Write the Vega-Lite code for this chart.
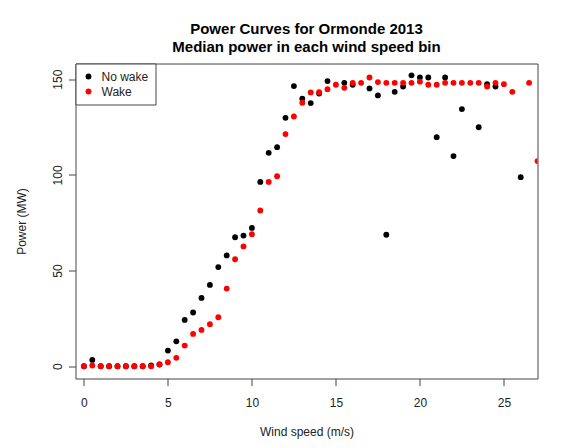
{
  "$schema": "https://vega.github.io/schema/vega-lite/v6.json",
  "width": 462,
  "height": 315,
  "autosize": {"type": "none"},
  "padding": {"left": 75.5, "top": 63.5, "right": 31.5, "bottom": 69.5},
  "background": "white",
  "title": {
    "text": ["Power Curves for Ormonde 2013", "Median power in each wind speed bin"],
    "font": "Liberation Sans",
    "fontSize": 15,
    "fontWeight": "bold",
    "color": "#000000",
    "anchor": "middle",
    "frame": "group",
    "lineHeight": 18,
    "offset": 8
  },
  "config": {
    "view": {"stroke": "#444444", "strokeWidth": 1},
    "axis": {
      "labelFont": "Liberation Sans",
      "titleFont": "Liberation Sans",
      "labelFontSize": 12,
      "titleFontSize": 12,
      "titleFontWeight": "normal",
      "labelColor": "#222222",
      "titleColor": "#222222",
      "tickColor": "#444444",
      "tickSize": 7,
      "domain": false,
      "grid": false
    }
  },
  "data": {
    "values": [
      {"wind": 0, "power": 0, "series": "No wake"},
      {"wind": 0.5, "power": 3.3, "series": "No wake"},
      {"wind": 1, "power": 0, "series": "No wake"},
      {"wind": 1.5, "power": 0, "series": "No wake"},
      {"wind": 2, "power": 0, "series": "No wake"},
      {"wind": 2.5, "power": 0, "series": "No wake"},
      {"wind": 3, "power": 0, "series": "No wake"},
      {"wind": 3.5, "power": 0, "series": "No wake"},
      {"wind": 4, "power": 0.4, "series": "No wake"},
      {"wind": 4.5, "power": 0.9, "series": "No wake"},
      {"wind": 5, "power": 8.2, "series": "No wake"},
      {"wind": 5.5, "power": 13.0, "series": "No wake"},
      {"wind": 6, "power": 24.2, "series": "No wake"},
      {"wind": 6.5, "power": 28.1, "series": "No wake"},
      {"wind": 7, "power": 35.7, "series": "No wake"},
      {"wind": 7.5, "power": 42.5, "series": "No wake"},
      {"wind": 8, "power": 51.8, "series": "No wake"},
      {"wind": 8.5, "power": 57.9, "series": "No wake"},
      {"wind": 9, "power": 67.4, "series": "No wake"},
      {"wind": 9.5, "power": 68.3, "series": "No wake"},
      {"wind": 10, "power": 72.3, "series": "No wake"},
      {"wind": 10.5, "power": 96.3, "series": "No wake"},
      {"wind": 11, "power": 111.5, "series": "No wake"},
      {"wind": 11.5, "power": 114.5, "series": "No wake"},
      {"wind": 12, "power": 129.8, "series": "No wake"},
      {"wind": 12.5, "power": 146.4, "series": "No wake"},
      {"wind": 13, "power": 139.8, "series": "No wake"},
      {"wind": 13.5, "power": 137.5, "series": "No wake"},
      {"wind": 14, "power": 142.5, "series": "No wake"},
      {"wind": 14.5, "power": 149.0, "series": "No wake"},
      {"wind": 15.5, "power": 148.1, "series": "No wake"},
      {"wind": 16, "power": 147.1, "series": "No wake"},
      {"wind": 17, "power": 145.2, "series": "No wake"},
      {"wind": 17.5, "power": 141.5, "series": "No wake"},
      {"wind": 18, "power": 68.7, "series": "No wake"},
      {"wind": 18.5, "power": 143.4, "series": "No wake"},
      {"wind": 19, "power": 146.2, "series": "No wake"},
      {"wind": 19.5, "power": 152.0, "series": "No wake"},
      {"wind": 20, "power": 150.9, "series": "No wake"},
      {"wind": 20.5, "power": 150.9, "series": "No wake"},
      {"wind": 21, "power": 119.7, "series": "No wake"},
      {"wind": 21.5, "power": 150.9, "series": "No wake"},
      {"wind": 22, "power": 109.8, "series": "No wake"},
      {"wind": 22.5, "power": 134.4, "series": "No wake"},
      {"wind": 23.5, "power": 124.9, "series": "No wake"},
      {"wind": 24, "power": 147.4, "series": "No wake"},
      {"wind": 24.5, "power": 146.2, "series": "No wake"},
      {"wind": 26, "power": 98.8, "series": "No wake"},
      {"wind": 0, "power": 0, "series": "Wake"},
      {"wind": 0.5, "power": 0.4, "series": "Wake"},
      {"wind": 1, "power": 0, "series": "Wake"},
      {"wind": 1.5, "power": 0, "series": "Wake"},
      {"wind": 2, "power": 0, "series": "Wake"},
      {"wind": 2.5, "power": 0, "series": "Wake"},
      {"wind": 3, "power": 0, "series": "Wake"},
      {"wind": 3.5, "power": 0, "series": "Wake"},
      {"wind": 4, "power": 0, "series": "Wake"},
      {"wind": 4.5, "power": 1.0, "series": "Wake"},
      {"wind": 5, "power": 2.1, "series": "Wake"},
      {"wind": 5.5, "power": 4.4, "series": "Wake"},
      {"wind": 6, "power": 10.8, "series": "Wake"},
      {"wind": 6.5, "power": 16.9, "series": "Wake"},
      {"wind": 7, "power": 19.0, "series": "Wake"},
      {"wind": 7.5, "power": 22.0, "series": "Wake"},
      {"wind": 8, "power": 25.6, "series": "Wake"},
      {"wind": 8.5, "power": 40.6, "series": "Wake"},
      {"wind": 9, "power": 55.9, "series": "Wake"},
      {"wind": 9.5, "power": 62.6, "series": "Wake"},
      {"wind": 10, "power": 69.0, "series": "Wake"},
      {"wind": 10.5, "power": 81.4, "series": "Wake"},
      {"wind": 11, "power": 96.3, "series": "Wake"},
      {"wind": 11.5, "power": 99.3, "series": "Wake"},
      {"wind": 12, "power": 121.3, "series": "Wake"},
      {"wind": 12.5, "power": 130.5, "series": "Wake"},
      {"wind": 13, "power": 137.7, "series": "Wake"},
      {"wind": 13.5, "power": 143.1, "series": "Wake"},
      {"wind": 14, "power": 143.2, "series": "Wake"},
      {"wind": 14.5, "power": 144.8, "series": "Wake"},
      {"wind": 15, "power": 147.1, "series": "Wake"},
      {"wind": 15.5, "power": 145.5, "series": "Wake"},
      {"wind": 16, "power": 148.1, "series": "Wake"},
      {"wind": 16.5, "power": 148.1, "series": "Wake"},
      {"wind": 17, "power": 150.9, "series": "Wake"},
      {"wind": 17.5, "power": 148.5, "series": "Wake"},
      {"wind": 18, "power": 148.1, "series": "Wake"},
      {"wind": 18.5, "power": 148.1, "series": "Wake"},
      {"wind": 19, "power": 148.1, "series": "Wake"},
      {"wind": 19.5, "power": 148.1, "series": "Wake"},
      {"wind": 20, "power": 148.7, "series": "Wake"},
      {"wind": 20.5, "power": 147.1, "series": "Wake"},
      {"wind": 21, "power": 147.1, "series": "Wake"},
      {"wind": 21.5, "power": 148.1, "series": "Wake"},
      {"wind": 22, "power": 148.1, "series": "Wake"},
      {"wind": 22.5, "power": 148.1, "series": "Wake"},
      {"wind": 23, "power": 148.1, "series": "Wake"},
      {"wind": 23.5, "power": 148.1, "series": "Wake"},
      {"wind": 24, "power": 146.2, "series": "Wake"},
      {"wind": 24.5, "power": 148.1, "series": "Wake"},
      {"wind": 25, "power": 147.4, "series": "Wake"},
      {"wind": 25.5, "power": 143.4, "series": "Wake"},
      {"wind": 26.5, "power": 148.1, "series": "Wake"},
      {"wind": 27, "power": 107.2, "series": "Wake"}
    ]
  },
  "mark": {"type": "point", "filled": true, "shape": "circle", "size": 34, "opacity": 1, "clip": true},
  "encoding": {
    "x": {
      "field": "wind",
      "type": "quantitative",
      "scale": {"domain": [-0.5, 27], "nice": false, "zero": false},
      "axis": {
        "title": "Wind speed (m/s)",
        "values": [0, 5, 10, 15, 20, 25],
        "labelPadding": 12,
        "titlePadding": 18
      }
    },
    "y": {
      "field": "power",
      "type": "quantitative",
      "scale": {"domain": [-6.4, 158.2], "nice": false, "zero": false},
      "axis": {
        "title": "Power (MW)",
        "values": [0, 50, 100, 150],
        "labelAngle": -90,
        "labelAlign": "center",
        "labelBaseline": "bottom",
        "labelPadding": 4,
        "titlePadding": 23
      }
    },
    "color": {
      "field": "series",
      "type": "nominal",
      "scale": {"domain": ["No wake", "Wake"], "range": ["#000000", "#ff0000"]},
      "legend": {
        "title": null,
        "orient": "none",
        "legendX": 0,
        "legendY": 0,
        "padding": 7,
        "strokeColor": "#444444",
        "fillColor": "#ffffff",
        "cornerRadius": 0,
        "symbolType": "circle",
        "symbolSize": 34,
        "symbolStrokeWidth": 0,
        "labelFont": "Liberation Sans",
        "labelFontSize": 12,
        "labelColor": "#222222",
        "labelOffset": 7,
        "rowPadding": 3
      }
    }
  }
}
